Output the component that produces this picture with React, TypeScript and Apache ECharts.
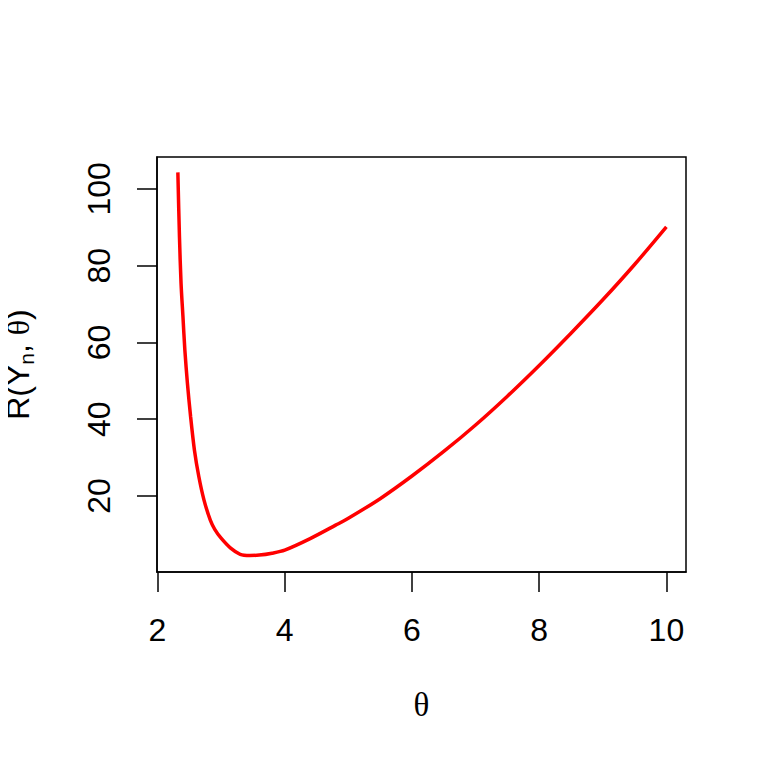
import React, { useEffect, useRef } from "react";
import * as echarts from "echarts";

const thetaValues = [2.32, 2.345, 2.37, 2.4, 2.43, 2.47, 2.52, 2.58, 2.65, 2.73, 2.83, 2.9, 3.0, 3.15, 3.3, 3.45, 3.6, 3.8, 4.0, 4.4, 4.8, 5.0, 5.5, 6.0, 6.5, 7.0, 7.5, 8.0, 8.5, 9.0, 9.5, 10.0];
const riskValues = [104.3, 87.6, 75.4, 66.7, 58.0, 49.4, 40.7, 32.0, 25.0, 19.0, 13.7, 11.3, 9.0, 6.4, 4.8, 4.5, 4.6, 5.1, 5.9, 8.9, 12.4, 14.2, 19.3, 25.2, 31.6, 38.5, 46.0, 54.0, 62.4, 71.1, 80.3, 90.1];
const xTicks = [2, 4, 6, 8, 10];
const yTicks = [20, 40, 60, 80, 100];

export default function App() {
  const ref = useRef<HTMLDivElement>(null);
  useEffect(() => {
    const chart = echarts.init(ref.current!, null, { renderer: "svg" });
    const font = "'Liberation Sans', Arial, sans-serif";
    chart.setOption({
      animation: false,
      backgroundColor: "#ffffff",
      grid: {
        left: 157,
        top: 157,
        right: 82,
        bottom: 196,
        show: true,
        borderColor: "#000",
        borderWidth: 1.5,
        backgroundColor: "transparent",
        containLabel: false,
        outerBoundsMode: "none",
      },
      xAxis: {
        type: "value",
        min: 1.992,
        max: 10.308,
        axisLine: { show: true, lineStyle: { color: "#000", width: 1.5 } },
        axisTick: { show: true, length: 20, lineStyle: { color: "#000", width: 1.5 }, customValues: xTicks },
        axisLabel: { show: true, color: "#000", fontSize: 32, fontFamily: font, margin: 42, customValues: xTicks },
        splitLine: { show: false },
        name: "θ",
        nameLocation: "middle",
        nameGap: 116,
        nameTextStyle: { color: "#000", fontSize: 33, fontFamily: "'Liberation Serif', serif" },
      },
      yAxis: {
        type: "value",
        min: 0.2,
        max: 108.3,
        axisLine: { show: true, lineStyle: { color: "#000", width: 1.5 } },
        axisTick: { show: true, length: 20, lineStyle: { color: "#000", width: 1.5 }, customValues: yTicks },
        axisLabel: { show: true, color: "#000", fontSize: 32, fontFamily: font, margin: 42, rotate: 90, customValues: yTicks },
        splitLine: { show: false },
        name: "{a|R(Y}{sub|n}{a|, }{th|θ}{a|)}",
        nameLocation: "middle",
        nameRotate: 90,
        nameGap: 120,
        nameTextStyle: {
          color: "#000",
          fontSize: 32,
          fontFamily: font,
          rich: {
            a: { fontSize: 32, fontFamily: font, color: "#000", lineHeight: 38 },
            sub: { fontSize: 21, fontFamily: font, color: "#000", lineHeight: 38, verticalAlign: "bottom", padding: [13, 0, 0, 0] },
            th: { fontSize: 32, fontFamily: "'Liberation Serif', serif", color: "#000", lineHeight: 38 },
          },
        },
      },
      series: [
        {
          type: "line",
          data: thetaValues.map((t, i) => [t, riskValues[i]]),
          showSymbol: false,
          smooth: 0.3,
          lineStyle: { color: "#ff0000", width: 3.5 },
        },
      ],
    });
    return () => chart.dispose();
  }, []);
  return <div ref={ref} style={{ width: 768, height: 768, margin: -8 }} />;
}
